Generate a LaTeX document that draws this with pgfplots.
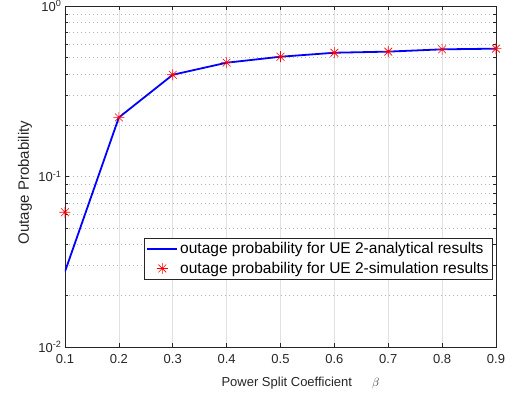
\documentclass[border=0pt]{standalone}
\usepackage{pgfplots}
\pgfplotsset{compat=1.18}
\usepackage{fontspec}
\setmainfont{Liberation Sans}
\definecolor{axgray}{RGB}{38,38,38}
\definecolor{gridgray}{RGB}{225,225,225}
\pgfdeclareplotmark{ast8}{%
  \pgfpathmoveto{\pgfqpoint{-\pgfplotmarksize}{0pt}}\pgfpathlineto{\pgfqpoint{\pgfplotmarksize}{0pt}}%
  \pgfpathmoveto{\pgfqpoint{0pt}{-\pgfplotmarksize}}\pgfpathlineto{\pgfqpoint{0pt}{\pgfplotmarksize}}%
  \pgfpathmoveto{\pgfqpoint{-0.707\pgfplotmarksize}{-0.707\pgfplotmarksize}}\pgfpathlineto{\pgfqpoint{0.707\pgfplotmarksize}{0.707\pgfplotmarksize}}%
  \pgfpathmoveto{\pgfqpoint{-0.707\pgfplotmarksize}{0.707\pgfplotmarksize}}\pgfpathlineto{\pgfqpoint{0.707\pgfplotmarksize}{-0.707\pgfplotmarksize}}%
  \pgfusepathqstroke}
\pgfplotsset{
  lineleg/.style={legend image code/.code={\draw[##1] (0pt,0pt) -- (30pt,0pt);}},
  markleg/.style={legend image code/.code={\draw[##1] plot coordinates {(15pt,0pt)};}},
}
\begin{document}
\begin{tikzpicture}
\begin{axis}[
  at={(0,0)}, anchor=south west,
  scale only axis, width=431pt, height=341pt,
  ymode=log, xmin=0.1, xmax=0.9, ymin=0.01, ymax=1,
  xtick={0.1,0.2,...,0.9},
  xticklabel style={/pgf/number format/fixed,/pgf/number format/precision=1,/pgf/number format/fixed zerofill, yshift=-4pt},
  /pgf/number format/assume math mode=true,
  ytick={0.01,0.1,1},
  yticklabels={10\textsuperscript{-2},10\textsuperscript{-1},10\textsuperscript{0}},
  tick label style={font=\fontsize{13}{15}\selectfont, color=axgray},
  xlabel={Power Split Coefficient\hspace{20pt}$\beta$},
  xlabel style={font=\fontsize{13}{15}\selectfont, color=axgray, at={(axis description cs:0.355,-0.117)}, anchor=base west},
  ylabel={Outage Probability},
  ylabel style={font=\fontsize{15}{17}\selectfont, color=axgray, at={(axis description cs:-0.093,0.482)}, anchor=center},
  axis line style={axgray, line width=0.6pt},
  tick style={axgray, line width=0.5pt},
  tick align=inside,
  major tick length=4pt, minor tick length=3pt,
  xmajorgrids, ymajorgrids, yminorgrids,
  x grid style={gridgray, line width=0.6pt},
  y grid style={gray!60, dash pattern=on 1pt off 3pt, line width=0.5pt},
  minor grid style={gray!60, dash pattern=on 1pt off 3pt, line width=0.5pt},
  legend style={at={(0.993,0.199)}, anchor=south east, draw=axgray, fill=white,
    font=\fontsize{15.5}{18}\selectfont, row sep=3pt, inner sep=2pt, line width=0.6pt},
  legend cell align=left,
]
\addplot[blue, line width=1.8pt, lineleg] coordinates {
(0.1,0.0277) (0.2,0.222) (0.3,0.395) (0.4,0.465) (0.5,0.504) (0.6,0.532) (0.7,0.540) (0.8,0.557) (0.9,0.562)};
\addlegendentry{outage probability for UE 2-analytical results}
\addplot[only marks, red, mark=ast8, mark size=5.5pt, line width=0.6pt, markleg] coordinates {
(0.1,0.0617) (0.2,0.222) (0.3,0.395) (0.4,0.465) (0.5,0.504) (0.6,0.532) (0.7,0.540) (0.8,0.557) (0.9,0.562)};
\addlegendentry{outage probability for UE 2-simulation results}
\end{axis}
\pgfresetboundingbox
\path[use as bounding box] (-65pt,-49pt) rectangle (449pt,347pt);
\end{tikzpicture}
\end{document}
